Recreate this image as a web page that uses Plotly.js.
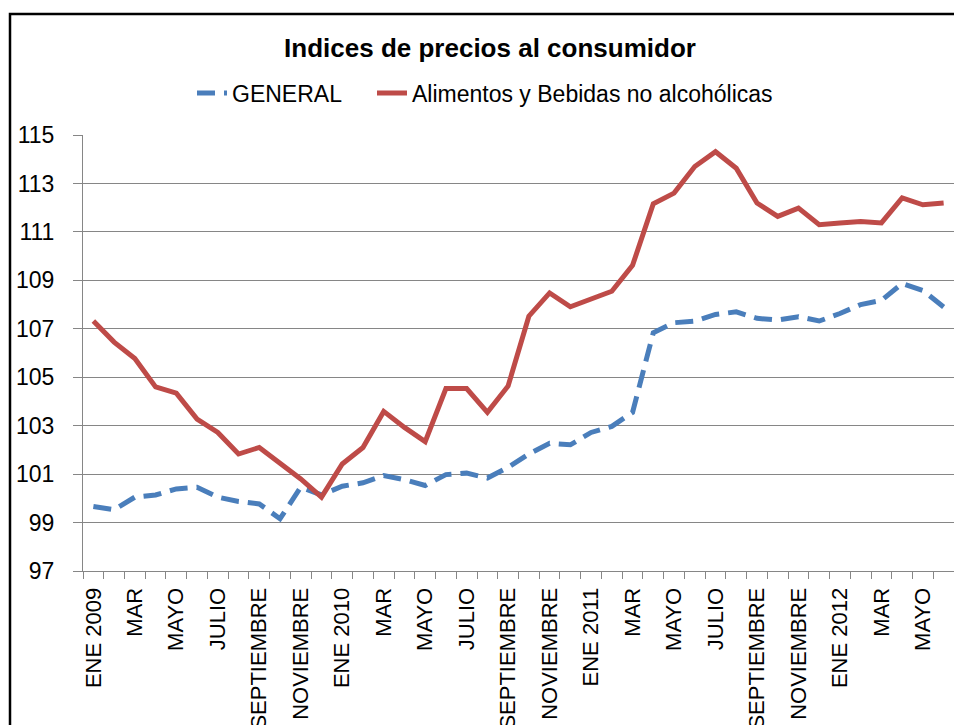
<!DOCTYPE html>
<html>
<head>
<meta charset="utf-8">
<script src="https://cdn.plot.ly/plotly-3.0.1.min.js"></script>
<style>html,body{margin:0;padding:0;background:#fff;}#chart{width:954px;height:725px;}</style>
</head>
<body>
<div id="chart"></div>
<script>
var months = ["ENE 2009","FEB","MAR","ABR","MAYO","JUNIO","JULIO","AGOSTO","SEPTIEMBRE","OCTUBRE","NOVIEMBRE","DICIEMBRE",
  "ENE 2010","FEB","MAR","ABR","MAYO","JUNIO","JULIO","AGOSTO","SEPTIEMBRE","OCTUBRE","NOVIEMBRE","DICIEMBRE",
  "ENE 2011","FEB","MAR","ABR","MAYO","JUNIO","JULIO","AGOSTO","SEPTIEMBRE","OCTUBRE","NOVIEMBRE","DICIEMBRE",
  "ENE 2012","FEB","MAR","ABR","MAYO","JUNIO"];
var general = [99.66,99.53,100.05,100.14,100.39,100.46,100.05,99.87,99.77,99.16,100.46,100.14,
  100.5,100.64,100.94,100.77,100.53,100.98,101.04,100.84,101.28,101.83,102.27,102.21,
  102.72,102.97,103.55,106.84,107.25,107.32,107.59,107.7,107.43,107.36,107.5,107.32,
  107.63,108.0,108.17,108.87,108.58,107.9];
var alimentos = [107.32,106.45,105.77,104.6,104.34,103.27,102.72,101.83,102.1,101.42,100.8,100.05,
  101.42,102.1,103.59,102.93,102.34,104.53,104.53,103.55,104.64,107.52,108.48,107.91,
  108.21,108.55,109.62,112.16,112.6,113.7,114.31,113.63,112.19,111.64,111.98,111.3,
  111.37,111.43,111.37,112.4,112.12,112.19];
var seriesNames = ["GENERAL","Alimentos y Bebidas no alcohólicas"];
var yTicks = [97,99,101,103,105,107,109,111,113,115];

var idx = months.map(function(m,i){return i;});
var labelIdx = idx.filter(function(i){return i % 2 === 0;});
var labelText = labelIdx.map(function(i){return months[i];});
var boundaries = idx.map(function(i){return i - 0.5;}).concat([months.length - 0.5]);

var FONT = "Liberation Sans, Arial, sans-serif";
var GRID = "#868686";

var traces = [
  {x: idx, y: general, name: seriesNames[0], type: "scatter", mode: "lines", legend: "legend",
   line: {color: "#4A7EBB", width: 5, dash: "18px,9px"}},
  {x: idx, y: alimentos, name: seriesNames[1], type: "scatter", mode: "lines", legend: "legend2",
   line: {color: "#BE4B48", width: 5}}
];

function legendAt(px) {
  return {orientation: "h", xref: "container", yref: "container", x: px/954, xanchor: "left",
          y: 1 - 93/725, yanchor: "middle", font: {family: FONT, size: 23, color: "#000"},
          bgcolor: "rgba(0,0,0,0)", borderwidth: 0};
}

var layout = {
  width: 954, height: 725,
  margin: {l: 83, r: 0, t: 135, b: 154},
  paper_bgcolor: "#fff", plot_bgcolor: "#fff",
  font: {family: FONT, color: "#000"},
  title: {text: "Indices de precios al consumidor", font: {family: FONT, size: 26, weight: "bold", color: "#000"},
          xref: "container", yref: "container", x: 490/954, xanchor: "center", y: 1 - 48/725, yanchor: "middle"},
  showlegend: true,
  legend: legendAt(192),
  legend2: legendAt(372),
  xaxis: {type: "linear", range: [-0.5, months.length - 0.5], tickmode: "array", tickvals: labelIdx, ticktext: labelText,
          tickangle: -90, ticks: "", showgrid: false, zeroline: false, showline: true, linecolor: GRID, linewidth: 1,
          tickfont: {family: FONT, size: 22, color: "#000"}, ticklabelstandoff: 7,
          minor: {tickmode: "array", tickvals: boundaries, ticks: "outside", ticklen: 7, tickcolor: GRID, tickwidth: 1, showgrid: false}},
  yaxis: {range: [97, 115], tickmode: "array", tickvals: yTicks, showgrid: true, gridcolor: GRID, gridwidth: 1,
          zeroline: false, showline: true, linecolor: GRID, linewidth: 1, ticks: "outside", ticklen: 9, tickcolor: GRID,
          tickfont: {family: FONT, size: 23, color: "#000"}, ticklabelstandoff: 14},
  shapes: [
    {type: "rect", xref: "paper", yref: "paper", x0: (10 - 83)/871, x1: 1.2, y0: -0.5, y1: (571 - 14)/436,
     line: {color: "#000", width: 2.5}, fillcolor: "rgba(0,0,0,0)", layer: "above"}
  ]
};

Plotly.newPlot("chart", traces, layout, {staticPlot: true});
</script>
</body>
</html>
